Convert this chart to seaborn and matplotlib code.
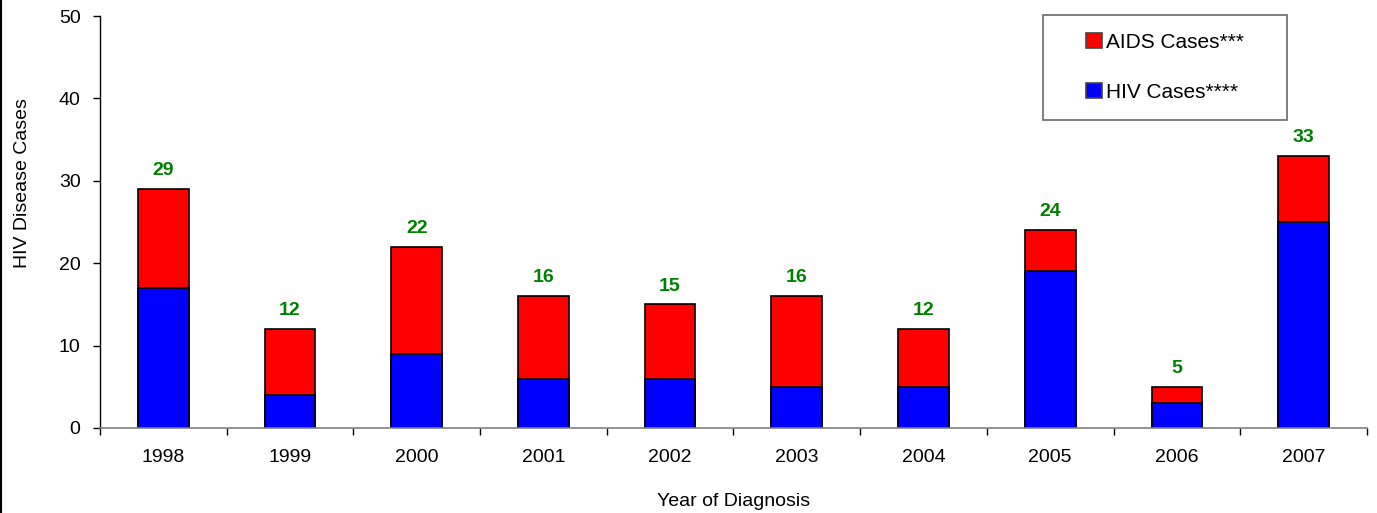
import pandas as pd
import matplotlib.pyplot as plt
import seaborn as sns
import numpy as np

years = ['1998', '1999', '2000', '2001', '2002', '2003', '2004', '2005', '2006', '2007']
hiv_cases = [17, 4, 9, 6, 6, 5, 5, 19, 3, 25]
aids_cases = [12, 8, 13, 10, 9, 11, 7, 5, 2, 8]

df = pd.DataFrame({'Year': years, 'HIV': hiv_cases, 'AIDS': aids_cases})
df['Total'] = df['HIV'] + df['AIDS']

sns.set_style('white')
plt.rcParams['font.family'] = ['Liberation Sans', 'DejaVu Sans']
plt.rcParams['text.color'] = 'black'
plt.rcParams['axes.labelcolor'] = 'black'
plt.rcParams['xtick.color'] = 'black'
plt.rcParams['ytick.color'] = 'black'

fig = plt.figure(figsize=(13.77, 5.13), dpi=100)
ax = fig.add_axes([0.0726, 0.1657, 0.9201, 0.8031])

# total bar in red, HIV part drawn over it in blue
sns.barplot(x='Year', y='Total', data=df, color='#ff0000', width=0.4,
            edgecolor='black', linewidth=1.2, saturation=1, ax=ax, label='AIDS Cases***')
sns.barplot(x='Year', y='HIV', data=df, color='#0000ff', width=0.4,
            edgecolor='black', linewidth=1.2, saturation=1, ax=ax, label='HIV Cases****')

for i, t in enumerate(df['Total']):
    ax.text(i, t + 1.2, str(t), ha='center', va='bottom', color='#008000',
            fontsize=14, fontweight='bold')

ax.set_xlim(-0.5, len(years) - 0.5)
ax.set_ylim(0, 50)
ax.set_yticks(range(0, 51, 10))
ax.set_xticks(np.arange(-0.5, len(years), 1), minor=True)
ax.tick_params(axis='x', which='major', length=0, labelsize=14, pad=15)
ax.tick_params(axis='x', which='minor', length=5, width=1, color='black', direction='out', bottom=True)
ax.tick_params(axis='y', length=5, width=1, color='black', direction='out', left=True, labelsize=14, pad=9)

ax.spines['top'].set_visible(False)
ax.spines['right'].set_visible(False)
ax.spines['left'].set_color('black')
ax.spines['left'].set_linewidth(1)
ax.spines['bottom'].set_color('#808080')
ax.spines['bottom'].set_linewidth(1.2)

ax.set_ylabel('HIV Disease Cases', fontsize=14, va='center')
ax.set_xlabel('Year of Diagnosis', fontsize=14, va='center')
ax.yaxis.set_label_coords(-0.061, 0.595)
ax.xaxis.set_label_coords(0.5, -0.178)

handles, labels = ax.get_legend_handles_labels()
leg = ax.legend(handles, labels, loc='upper left',
                bbox_to_anchor=(1043 / 1377, 1 - 15 / 513), bbox_transform=fig.transFigure,
                frameon=True, fancybox=False, shadow=False, fontsize=15,
                handlelength=0.75, handleheight=0.75, handletextpad=0.2,
                labelspacing=1.5, borderpad=0.85, borderaxespad=0)
leg.get_frame().set_edgecolor('#444444')
leg.get_frame().set_linewidth(1.2)
for h in leg.legend_handles:
    h.set_edgecolor('#444444')

# widen the box to the reference width with the entries sitting in its middle
fig.canvas.draw()
leg._legend_box.set_width(0)
box_px = 1287 - 1043
leg._legend_handle_box.pad = 0
leg.set_bbox_to_anchor((1043 / 1377, 1 - 15 / 513, box_px / 1377, 0), transform=fig.transFigure)
leg._loc = 2
leg._mode = 'expand'

fig.add_artist(plt.Line2D([0.0008, 0.0008], [0, 1], color='black', linewidth=1.5,
                          transform=fig.transFigure))

plt.savefig('out.png', dpi=100)
